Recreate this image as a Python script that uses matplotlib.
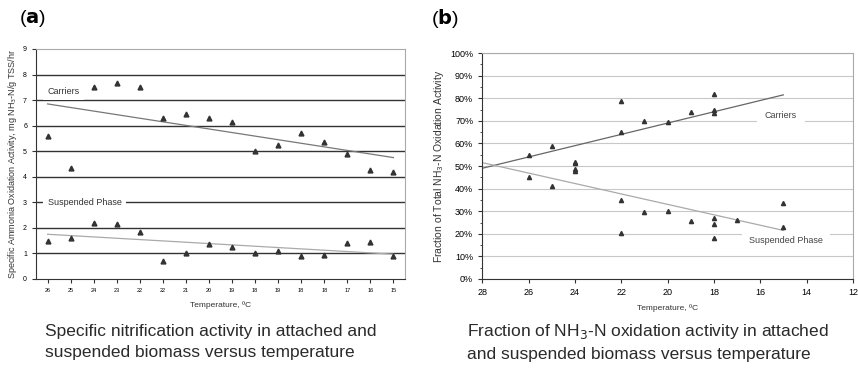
"""Nitrification activity of carriers vs suspended phase over temperature."""

import matplotlib
matplotlib.use("Agg")
import matplotlib.pyplot as plt
import numpy as np
from matplotlib.ticker import MultipleLocator, PercentFormatter

plt.rcParams["font.family"] = ["Liberation Sans", "DejaVu Sans"]

# (a) specific activity, one sample per category
temp_labels_a = ["26", "25", "24", "23", "22", "22", "21", "20",
                 "19", "18", "19", "18", "18", "17", "16", "15"]
carriers_a = [5.6, 4.35, 7.5, 7.65, 7.5, 6.3, 6.45, 6.3,
              6.15, 5.0, 5.25, 5.7, 5.35, 4.9, 4.25, 4.2]
suspended_a = [1.5, 1.6, 2.2, 2.15, 1.85, 0.7, 1.0, 1.35,
               1.25, 1.0, 1.1, 0.9, 0.95, 1.4, 1.45, 0.9]
carriers_a_trend = [6.85, 4.75]
suspended_a_trend = [1.75, 0.97]

# (b) fraction of total activity
temp_b_car = [26, 25, 24, 24, 22, 22, 21, 20, 19, 18, 18, 18]
carriers_b = [0.55, 0.59, 0.52, 0.485, 0.79, 0.65, 0.70, 0.695, 0.74, 0.82, 0.75, 0.735]
temp_b_sus = [26, 25, 24, 24, 22, 22, 21, 20, 19, 18, 18, 18, 17, 15, 15]
suspended_b = [0.45, 0.41, 0.515, 0.48, 0.35, 0.205, 0.295, 0.30, 0.255,
               0.27, 0.245, 0.18, 0.26, 0.335, 0.23]
trend_b_x = [28, 15]
carriers_b_trend = [0.49, 0.815]
suspended_b_trend = [0.515, 0.215]

fig = plt.figure(figsize=(8.58, 3.71), dpi=100)

# ---- panel (a)
ax1 = fig.add_axes([0.042, 0.248, 0.430, 0.620])
x = np.arange(len(temp_labels_a))
ax1.set_xlim(-0.5, len(temp_labels_a) - 0.5)
ax1.set_ylim(0, 9)
for y in range(1, 9):
    ax1.axhline(y, color="#333333", lw=1.0, zorder=1)
ax1.plot([x[0], x[-1]], carriers_a_trend, color="#777777", lw=0.9, zorder=2)
ax1.plot([x[0], x[-1]], suspended_a_trend, color="#aaaaaa", lw=0.9, zorder=2)
ax1.plot(x, carriers_a, "^", color="#333333", ms=3.5, zorder=3)
ax1.plot(x, suspended_a, "^", color="#333333", ms=3.5, zorder=3)
ax1.text(0, 7.35, "Carriers", fontsize=6.5, color="#333333", va="center",
         bbox=dict(fc="white", ec="none", pad=3), zorder=4)
ax1.text(0, 3, "Suspended Phase", fontsize=6.5, color="#333333", va="center",
         bbox=dict(fc="white", ec="none", pad=3), zorder=4)
ax1.set_xticks(x)
ax1.set_xticklabels(temp_labels_a, fontsize=4)
ax1.set_yticks(range(0, 10))
ax1.tick_params(axis="y", labelsize=5, length=3, color="#333333")
ax1.tick_params(axis="x", length=3, color="#333333")
for s in ["top", "right"]:
    ax1.spines[s].set_color("#aaaaaa")
for s in ["left", "bottom"]:
    ax1.spines[s].set_color("#333333")
ax1.set_ylabel("Specific Ammonia Oxidation Activity, mg NH$_3$-N/g TSS/hr",
               fontsize=6.5, color="#333333", labelpad=3)
ax1.set_xlabel("Temperature, ºC", fontsize=6, color="#333333", labelpad=6)

# ---- panel (b)
ax2 = fig.add_axes([0.562, 0.248, 0.432, 0.609])
ax2.set_xlim(28, 12)
ax2.set_ylim(0, 1)
ax2.yaxis.set_major_locator(MultipleLocator(0.1))
ax2.yaxis.set_minor_locator(MultipleLocator(0.05))
ax2.yaxis.set_major_formatter(PercentFormatter(1.0, decimals=0))
ax2.xaxis.set_major_locator(MultipleLocator(2))
ax2.grid(axis="y", color="#c8c8c8", lw=0.8, zorder=0)
ax2.set_axisbelow(True)
ax2.plot(trend_b_x, carriers_b_trend, color="#666666", lw=0.9, zorder=2)
ax2.plot(trend_b_x, suspended_b_trend, color="#aaaaaa", lw=0.9, zorder=2)
ax2.plot(temp_b_car, carriers_b, "^", color="#333333", ms=3, zorder=3)
ax2.plot(temp_b_sus, suspended_b, "^", color="#333333", ms=3, zorder=3)
ax2.text(15.1, 0.725, "Carriers", fontsize=6.5, color="#444444", va="center", ha="center",
         bbox=dict(fc="white", ec="none", pad=6), zorder=1)
ax2.text(14.9, 0.17, "Suspended Phase", fontsize=6.5, color="#444444", va="center", ha="center",
         bbox=dict(fc="white", ec="none", pad=5), zorder=1)
ax2.tick_params(axis="both", labelsize=6.5, length=3, color="#333333")
ax2.tick_params(axis="y", which="minor", length=1.5, color="#333333")
for s in ["top", "right"]:
    ax2.spines[s].set_color("#aaaaaa")
for s in ["left", "bottom"]:
    ax2.spines[s].set_color("#333333")
ax2.set_ylabel("Fraction of Total NH$_3$-N Oxidation Activity", fontsize=7.5,
               color="#333333", labelpad=3)
ax2.set_xlabel("Temperature, ºC", fontsize=6, color="#333333", labelpad=5)

# panel tags and captions
fig.text(0.022, 0.95, r"($\mathbf{a}$)", fontsize=14, va="center")
fig.text(0.502, 0.95, r"($\mathbf{b}$)", fontsize=14, va="center")
fig.text(0.052, 0.078, "Specific nitrification activity in attached and\n"
         "suspended biomass versus temperature", fontsize=12.5,
         va="center", linespacing=1.45, color="#2a2a2a")
fig.text(0.544, 0.078, "Fraction of NH$_3$-N oxidation activity in attached\n"
         "and suspended biomass versus temperature", fontsize=12.5,
         va="center", linespacing=1.45, color="#2a2a2a")

plt.savefig("out.png", dpi=100)
